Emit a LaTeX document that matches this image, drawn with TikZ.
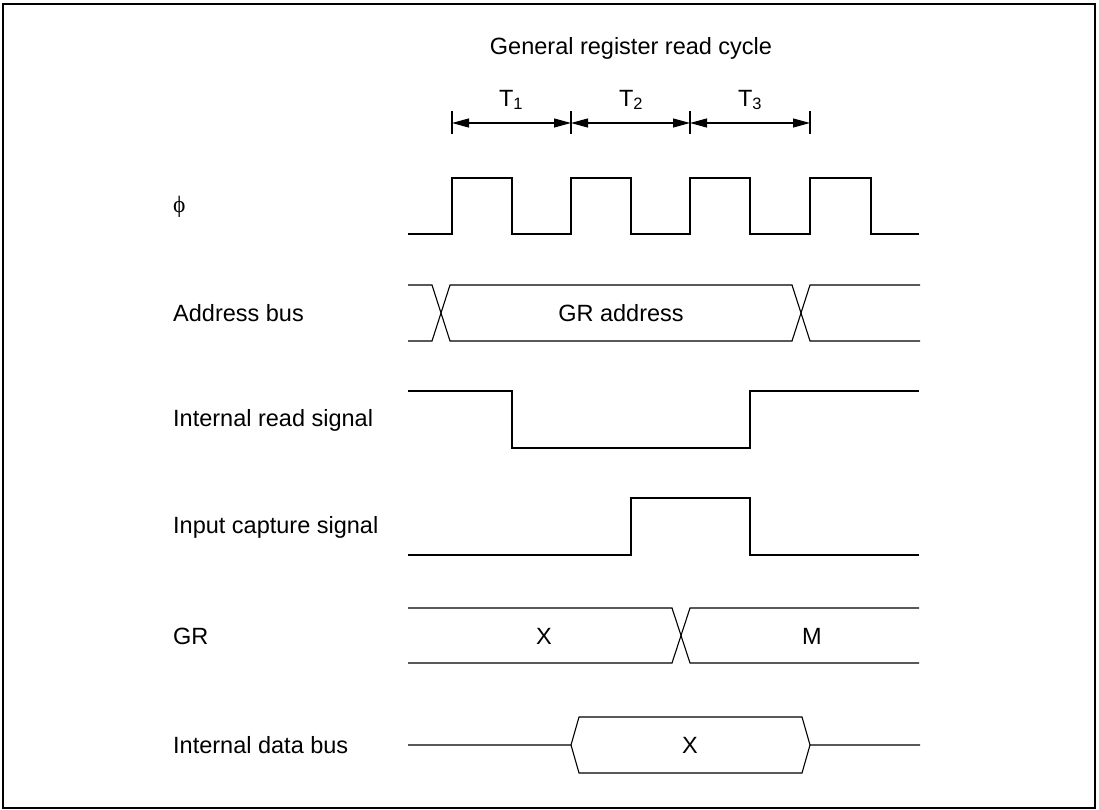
\documentclass[tikz,border=0pt]{standalone}
\usepackage{fontspec}
\setmainfont{Liberation Sans}
\newfontfamily\phifont{Liberation Serif}
\usetikzlibrary{arrows.meta}
\begin{document}
\begin{tikzpicture}[x=1pt,y=-1pt,
  sig/.style={line width=1.1pt, line join=miter},
  lbl/.style={anchor=west, inner sep=0pt, font=\fontsize{23.5}{28}\selectfont},
  txt/.style={inner sep=0pt, font=\fontsize{23.5}{28}\selectfont},
  dim/.style={line width=1.1pt, {Triangle[length=17pt,width=9pt]}-{Triangle[length=17pt,width=9pt]}},
  tick/.style={line width=1.1pt}]
\useasboundingbox (0,0) rectangle (1099,810);
\draw[line width=1.8pt] (3,4) rectangle (1095,808);

% title and periods
\node[txt] (title) at (631,48) {General register read cycle};
\coordinate (k1) at (452,123);
\coordinate (k2) at (571,123);
\coordinate (k3) at (690,123);
\coordinate (k4) at (810,123);
\foreach \k in {k1,k2,k3,k4} \draw[tick] ([yshift=-11pt]\k) -- ([yshift=12pt]\k);
\draw[dim] (k1) -- (k2);
\draw[dim] (k2) -- (k3);
\draw[dim] (k3) -- (k4);
\node[txt] (t1) at (511,100) {T\textsubscript{1}};
\node[txt] (t2) at (631,100) {T\textsubscript{2}};
\node[txt] (t3) at (750,100) {T\textsubscript{3}};

% labels
\node[lbl] (lphi) at (173,207) {\phifont ϕ};
\node[lbl] (laddr) at (173,313) {Address bus};
\node[lbl] (lrd) at (173,420) {Internal read signal};
\node[lbl] (lic) at (173,527) {Input capture signal};
\node[lbl] (lgr) at (173,636) {GR};
\node[lbl] (ldb) at (173,745) {Internal data bus};

% clock
\draw[sig] (408,234) -- (452,234) -- (452,178) -- (512,178) -- (512,234) -- (571,234)
  -- (571,178) -- (631,178) -- (631,234) -- (690,234) -- (690,178) -- (750,178)
  -- (750,234) -- (810,234) -- (810,178) -- (871,178) -- (871,234) -- (919,234);

% address bus
\draw[sig] (408,285) -- (432,285) -- (450,341) -- (792,341) -- (810,285) -- (920,285);
\draw[sig] (408,341) -- (432,341) -- (450,285) -- (792,285) -- (810,341) -- (920,341);
\node[txt] (ga) at (621,313) {GR address};

% internal read
\draw[sig] (408,391) -- (512,391) -- (512,448) -- (750,448) -- (750,391) -- (919,391);

% input capture
\draw[sig] (408,555) -- (631,555) -- (631,498) -- (750,498) -- (750,555) -- (919,555);

% GR
\draw[sig] (408,608) -- (672,608) -- (690,663) -- (919,663);
\draw[sig] (408,663) -- (672,663) -- (690,608) -- (919,608);
\node[txt] (grx) at (544,636) {X};
\node[txt] (grm) at (812,636) {M};

% internal data bus
\draw[sig] (408,745) -- (571,745) -- (579,717) -- (802,717) -- (810,745) -- (920,745);
\draw[sig] (571,745) -- (579,773) -- (802,773) -- (810,745);
\node[txt] (dbx) at (690,745) {X};
\end{tikzpicture}
\end{document}
